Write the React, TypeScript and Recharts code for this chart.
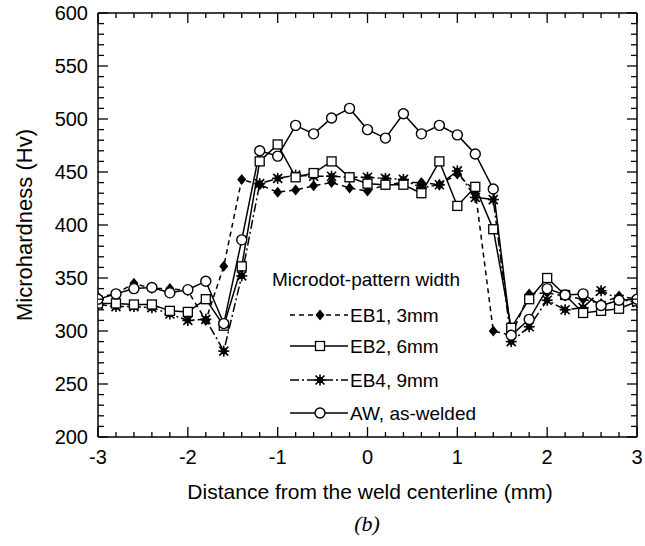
import React from "react";
import { LineChart, Line, XAxis, YAxis, Legend } from "recharts";

// distance from weld centerline (mm)
const distance = [
  -3, -2.8, -2.6, -2.4, -2.2, -2, -1.8, -1.6, -1.4, -1.2, -1, -0.8, -0.6, -0.4, -0.2, 0,
  0.2, 0.4, 0.6, 0.8, 1, 1.2, 1.4, 1.6, 1.8, 2, 2.2, 2.4, 2.6, 2.8, 3,
];

const eb1 = [
  332, 335, 345, 340, 340, 338, 310, 361, 443, 438, 431, 433, 437, 440, 435, 432,
  438, 440, 440, 438, 448, 432, 300, 296, 335, 336, 333, 330, 326, 333, 330,
];
const eb2 = [
  326, 326, 325, 325, 319, 318, 330, 305, 361, 460, 476, 445, 449, 460, 445, 439,
  438, 438, 430, 460, 418, 436, 396, 303, 330, 350, 334, 317, 319, 321, 328,
];
const eb4 = [
  325, 323, 323, 322, 316, 310, 311, 281, 352, 439, 444, 447, 446, 446, 445, 445,
  444, 443, 435, 438, 451, 426, 424, 290, 304, 329, 320, 322, 338, 330, 327,
];
const aw = [
  330, 335, 340, 341, 336, 339, 347, 307, 386, 470, 465, 494, 486, 501, 510, 490,
  482, 505, 486, 494, 485, 467, 434, 296, 311, 340, 334, 335, 324, 329, 330,
];

const xTickLabels = [-3, -2, -1, 0, 1, 2, 3];
const yTickLabels = [200, 250, 300, 350, 400, 450, 500, 550, 600];

const rows = distance.map((x, i) => ({ x, eb1: eb1[i], eb2: eb2[i], eb4: eb4[i], aw: aw[i] }));

// minor ticks: every 0.2 mm and every 10 Hv
const xTicks = Array.from({ length: 31 }, (_, i) => Math.round((-3 + i * 0.2) * 10) / 10);
const yTicks = Array.from({ length: 41 }, (_, i) => 200 + i * 10);

const FONT = '"Liberation Sans", Arial, Helvetica, sans-serif';
const axisLine = { stroke: "#000", strokeWidth: 1.5 };

const isMajorX = (v: number) => xTickLabels.includes(v);
const isMajorY = (v: number) => yTickLabels.includes(v);

const BottomTick = (p: any) => {
  const v = p.payload.value;
  const major = isMajorX(v);
  return (
    <g>
      <line x1={p.x} x2={p.x} y1={p.y} y2={p.y - (major ? 10 : 5)} stroke="#000" strokeWidth={1.3} />
      {major && (
        <text x={p.x} y={p.y + 20} textAnchor="middle" dominantBaseline="central" fontSize={20} fontFamily={FONT} fill="#000">
          {String(v)}
        </text>
      )}
    </g>
  );
};

const TopTick = (p: any) => {
  const major = isMajorX(p.payload.value);
  return <line x1={p.x} x2={p.x} y1={p.y} y2={p.y + (major ? 10 : 5)} stroke="#000" strokeWidth={1.3} />;
};

const LeftTick = (p: any) => {
  const v = p.payload.value;
  const major = isMajorY(v);
  return (
    <g>
      <line x1={p.x} x2={p.x + (major ? 10 : 6)} y1={p.y} y2={p.y} stroke="#000" strokeWidth={1.3} />
      {major && (
        <text x={p.x - 10} y={p.y} textAnchor="end" dominantBaseline="central" fontSize={20} fontFamily={FONT} fill="#000">
          {String(v)}
        </text>
      )}
    </g>
  );
};

const RightTick = (p: any) => {
  const major = isMajorY(p.payload.value);
  return <line x1={p.x} x2={p.x - (major ? 10 : 6)} y1={p.y} y2={p.y} stroke="#000" strokeWidth={1.3} />;
};

const Diamond = ({ cx, cy }: any) => (
  <path d={`M${cx},${cy - 5.5}L${cx + 4.5},${cy}L${cx},${cy + 5.5}L${cx - 4.5},${cy}Z`} fill="#000" />
);
const OpenSquare = ({ cx, cy }: any) => (
  <rect x={cx - 4.5} y={cy - 4.5} width={9} height={9} fill="#fff" stroke="#000" strokeWidth={1.3} />
);
const Star = ({ cx, cy }: any) => (
  <g stroke="#000" strokeWidth={1.6}>
    <rect x={cx - 3} y={cy - 3} width={6} height={6} fill="#000" stroke="none" />
    <line x1={cx - 5.5} x2={cx + 5.5} y1={cy} y2={cy} />
    <line x1={cx} x2={cx} y1={cy - 5.5} y2={cy + 5.5} />
    <line x1={cx - 4.5} x2={cx + 4.5} y1={cy - 4.5} y2={cy + 4.5} />
    <line x1={cx - 4.5} x2={cx + 4.5} y1={cy + 4.5} y2={cy - 4.5} />
  </g>
);
const OpenCircle = ({ cx, cy }: any) => <circle cx={cx} cy={cy} r={5} fill="#fff" stroke="#000" strokeWidth={1.4} />;

const series = [
  { key: "eb4", name: "EB4, 9mm", dash: "9 3 2 3", Shape: Star },
  { key: "eb1", name: "EB1, 3mm", dash: "5 4", Shape: Diamond },
  { key: "eb2", name: "EB2, 6mm", dash: undefined, Shape: OpenSquare },
  { key: "aw", name: "AW, as-welded", dash: undefined, Shape: OpenCircle },
];
const legendOrder = ["eb1", "eb2", "eb4", "aw"];
const legendRowY = [53, 84, 118, 151];

const renderLegend = () => (
  <svg width={240} height={170} style={{ overflow: "visible" }}>
    <text x={10} y={17} dominantBaseline="central" fontSize={19} fontFamily={FONT} fill="#000">
      Microdot-pattern width
    </text>
    {legendOrder.map((k, i) => {
      const s = series.find((d) => d.key === k)!;
      const y = legendRowY[i];
      return (
        <g key={k}>
          <line x1={28} x2={86} y1={y} y2={y} stroke="#000" strokeWidth={1.5} strokeDasharray={s.dash} />
          <s.Shape cx={58} cy={y} />
          <text x={88} y={y} dominantBaseline="central" fontSize={19} fontFamily={FONT} fill="#000">
            {s.name}
          </text>
        </g>
      );
    })}
  </svg>
);

export default function App() {
  return (
    <div style={{ position: "absolute", left: 0, top: 0, width: 645, height: 546, background: "#fff", fontFamily: FONT }}>
      <LineChart width={645} height={546} data={rows} margin={{ top: 8, right: 0, bottom: 69, left: 48 }}>
        <XAxis xAxisId="b" dataKey="x" type="number" domain={[-3, 3]} ticks={xTicks} interval={0} height={40}
          tickSize={0} tickMargin={0} tickLine={false} axisLine={axisLine} tick={<BottomTick />} allowDataOverflow />
        <XAxis xAxisId="t" orientation="top" dataKey="x" type="number" domain={[-3, 3]} ticks={xTicks} interval={0} height={5}
          tickSize={0} tickMargin={0} tickLine={false} axisLine={axisLine} tick={<TopTick />} allowDataOverflow />
        <YAxis yAxisId="l" type="number" domain={[200, 600]} ticks={yTicks} interval={0} width={50}
          tickSize={0} tickMargin={0} tickLine={false} axisLine={axisLine} tick={<LeftTick />} allowDataOverflow />
        <YAxis yAxisId="r" orientation="right" type="number" domain={[200, 600]} ticks={yTicks} interval={0} width={8}
          tickSize={0} tickMargin={0} tickLine={false} axisLine={axisLine} tick={<RightTick />} allowDataOverflow />
        <Legend layout="horizontal" verticalAlign="middle" align="center" content={renderLegend}
          wrapperStyle={{ left: 262, top: 262, width: 240, height: 170 }} />
        {series.map((s) => (
          <Line
            key={s.key}
            xAxisId="b"
            yAxisId="l"
            type="linear"
            dataKey={s.key}
            name={s.name}
            stroke="#000"
            strokeWidth={1.5}
            strokeDasharray={s.dash}
            isAnimationActive={false}
            dot={(p: any) => <s.Shape key={`${s.key}-${p.index}`} cx={p.cx} cy={p.cy} />}
            activeDot={false}
          />
        ))}
      </LineChart>
      <div style={{ position: "absolute", left: 25, top: 225, transform: "translate(-50%, -50%) rotate(-90deg)", whiteSpace: "nowrap", fontSize: 22, color: "#000" }}>
        Microhardness (Hv)
      </div>
      <div style={{ position: "absolute", left: 370, top: 492, transform: "translate(-50%, -50%)", whiteSpace: "nowrap", fontSize: 21, color: "#000" }}>
        Distance from the weld centerline (mm)
      </div>
      <div style={{ position: "absolute", left: 367, top: 524, transform: "translate(-50%, -50%)", fontFamily: '"Liberation Serif", "Times New Roman", serif', fontStyle: "italic", fontSize: 22, color: "#000" }}>
        (b)
      </div>
    </div>
  );
}
